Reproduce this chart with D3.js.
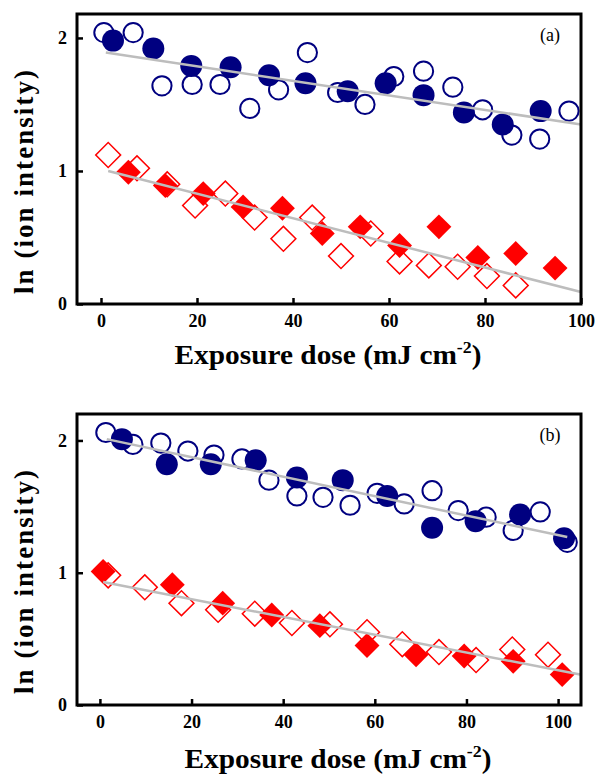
<!DOCTYPE html>
<html>
<head>
<meta charset="utf-8">
<script src="https://cdn.jsdelivr.net/npm/d3@7"></script>
<style>
  body { margin: 0; background: #fff; }
  svg { display: block; }
  .tick text { font-family: 'Liberation Serif', 'Times New Roman', serif; font-weight: bold; font-size: 18px; fill: #000; }
  .tick line { stroke: #000; stroke-width: 2.5; }
</style>
</head>
<body>
<svg id="chart" width="598" height="774"></svg>
<script>
// panel (a) data
const aOpenCircX = [0.6, 6.7, 12.7, 19, 24.8, 31, 37, 43, 49.3, 55, 61, 67.2, 73.3, 79.5, 85.6, 91.4, 97.5];
const aOpenCircY = [2.04, 2.04, 1.64, 1.65, 1.65, 1.47, 1.61, 1.89, 1.59, 1.50, 1.71, 1.75, 1.63, 1.46, 1.27, 1.24, 1.45];
const aFillCircX = [2.5, 10.9, 18.8, 27, 35, 42.6, 51.4, 59.3, 67.2, 75.6, 83.7, 91.6];
const aFillCircY = [1.98, 1.92, 1.79, 1.78, 1.72, 1.66, 1.60, 1.66, 1.57, 1.44, 1.35, 1.45];
const aOpenDiaX = [1.5, 7.5, 13.8, 19.6, 25.9, 32, 38, 44, 50, 56.2, 62.2, 68.3, 74.3, 80.4, 86.4];
const aOpenDiaY = [1.12, 1.02, 0.90, 0.74, 0.83, 0.65, 0.49, 0.65, 0.36, 0.53, 0.32, 0.29, 0.28, 0.21, 0.14];
const aFillDiaX = [5.7, 13.4, 21.3, 29.6, 37.8, 46.1, 54, 62.2, 70.4, 78.5, 86.4, 94.6];
const aFillDiaY = [0.99, 0.89, 0.83, 0.73, 0.72, 0.53, 0.58, 0.44, 0.58, 0.35, 0.38, 0.27];
const aFitBlue = [[1, 1.89], [100, 1.35]];
const aFitRed = [[1.5, 1.00], [100, 0.09]];

// panel (b) data
const bOpenCircX = [1.3, 7.2, 13.3, 19.2, 24.9, 31, 36.9, 43, 48.7, 54.6, 60.5, 66.4, 72.5, 78.2, 84.3, 90.2, 96.1, 102];
const bOpenCircY = [2.06, 1.97, 1.98, 1.92, 1.89, 1.86, 1.70, 1.58, 1.57, 1.51, 1.60, 1.52, 1.62, 1.47, 1.42, 1.32, 1.46, 1.23];
const bFillCircX = [4.8, 14.6, 24.2, 34, 43, 53, 62.7, 72.5, 82, 91.7, 101.3];
const bFillCircY = [2.01, 1.82, 1.82, 1.85, 1.72, 1.70, 1.58, 1.34, 1.39, 1.44, 1.26];
const bOpenDiaX = [1.8, 9.8, 17.8, 25.8, 33.8, 41.9, 50.2, 58.3, 66, 74, 82.1, 90, 97.8];
const bOpenDiaY = [0.98, 0.89, 0.77, 0.72, 0.69, 0.62, 0.61, 0.55, 0.46, 0.40, 0.34, 0.42, 0.38];
const bFillDiaX = [0.7, 15.8, 26.8, 37.5, 48, 58.3, 69, 79.5, 90.2, 100.9];
const bFillDiaY = [1.01, 0.91, 0.77, 0.68, 0.60, 0.45, 0.38, 0.37, 0.33, 0.23];
const bFitBlue = [[1.5, 2.01], [102, 1.27]];
const bFitRed = [[0.7, 0.93], [104.8, 0.23]];

const xTicks = [0, 20, 40, 60, 80, 100];
const yTicks = [0, 1, 2];

const navy = '#000080';
const red = '#ff0000';
const serif = "'Liberation Serif', 'Times New Roman', serif";
const svg = d3.select('#chart');
const zip = (xs, ys) => xs.map((x, i) => [x, ys[i]]);

function panel(cfg) {
  const x = d3.scaleLinear().domain(cfg.xDomain).range([cfg.left, cfg.right]);
  const y = d3.scaleLinear().domain(cfg.yDomain).range([cfg.bottom, cfg.top]);
  const g = svg.append('g');

  // markers: open first, filled on top
  g.selectAll('.oc').data(zip(cfg.openCircX, cfg.openCircY)).enter()
    .append('circle')
    .attr('cx', d => x(d[0])).attr('cy', d => y(d[1])).attr('r', 9.6)
    .attr('fill', 'none').attr('stroke', navy).attr('stroke-width', 2);

  const dia = d3.symbol(d3.symbolSquare, 310);
  g.selectAll('.od').data(zip(cfg.openDiaX, cfg.openDiaY)).enter()
    .append('path')
    .attr('d', dia)
    .attr('transform', d => 'translate(' + x(d[0]) + ',' + y(d[1]) + ') rotate(45)')
    .attr('fill', 'none').attr('stroke', red).attr('stroke-width', 1.5);

  g.selectAll('.fc').data(zip(cfg.fillCircX, cfg.fillCircY)).enter()
    .append('circle')
    .attr('cx', d => x(d[0])).attr('cy', d => y(d[1])).attr('r', 11)
    .attr('fill', navy);

  g.selectAll('.fd').data(zip(cfg.fillDiaX, cfg.fillDiaY)).enter()
    .append('path')
    .attr('d', dia)
    .attr('transform', d => 'translate(' + x(d[0]) + ',' + y(d[1]) + ') rotate(45)')
    .attr('fill', red);

  // fitted lines
  const line = d3.line().x(d => x(d[0])).y(d => y(d[1]));
  [cfg.fitBlue, cfg.fitRed].forEach(f => {
    g.append('path').attr('d', line(f))
      .attr('fill', 'none').attr('stroke', '#bdbdbd').attr('stroke-width', 2.5);
  });

  // frame
  g.append('rect')
    .attr('x', cfg.left).attr('y', cfg.top)
    .attr('width', cfg.right - cfg.left).attr('height', cfg.bottom - cfg.top)
    .attr('fill', 'none').attr('stroke', '#000').attr('stroke-width', 3);

  g.append('g')
    .attr('transform', 'translate(0,' + cfg.bottom + ')')
    .call(d3.axisBottom(x).tickValues(xTicks).tickFormat(d3.format('d'))
      .tickSizeInner(-6).tickSizeOuter(0).tickPadding(10))
    .call(a => a.select('.domain').remove());

  g.append('g')
    .attr('transform', 'translate(' + cfg.left + ',0)')
    .call(d3.axisLeft(y).tickValues(yTicks).tickFormat(d3.format('d'))
      .tickSizeInner(-6).tickSizeOuter(0).tickPadding(10))
    .call(a => a.select('.domain').remove());

  // y title
  g.append('text')
    .attr('transform', 'translate(33,' + cfg.yTitleY + ') rotate(-90)')
    .attr('text-anchor', 'middle')
    .attr('textLength', 224)
    .attr('lengthAdjust', 'spacing')
    .style('font-family', serif)
    .style('font-weight', 'bold')
    .style('font-size', '27px')
    .text('ln (ion intensity)');

  // x title
  const xt = g.append('text')
    .attr('x', cfg.xTitleX).attr('y', cfg.xTitleY)
    .attr('text-anchor', 'middle')
    .attr('textLength', 307)
    .attr('lengthAdjust', 'spacingAndGlyphs')
    .style('font-family', serif)
    .style('font-weight', 'bold')
    .style('font-size', '28px');
  xt.append('tspan').text('Exposure dose (mJ cm');
  xt.append('tspan').attr('dy', -11).style('font-size', '17px').text('-2');
  xt.append('tspan').attr('dy', 11).text(')');

  g.append('text')
    .attr('x', 550).attr('y', cfg.top + 27)
    .attr('text-anchor', 'middle')
    .style('font-family', serif)
    .style('font-size', '18px')
    .text(cfg.label);
}

panel({
  left: 77, right: 581, top: 14, bottom: 304,
  xDomain: [-5, 100], yDomain: [0, 2.18],
  openCircX: aOpenCircX, openCircY: aOpenCircY,
  fillCircX: aFillCircX, fillCircY: aFillCircY,
  openDiaX: aOpenDiaX, openDiaY: aOpenDiaY,
  fillDiaX: aFillDiaX, fillDiaY: aFillDiaY,
  fitBlue: aFitBlue, fitRed: aFitRed,
  yTitleY: 182, xTitleX: 328, xTitleY: 364, label: '(a)'
});

panel({
  left: 77, right: 581, top: 414, bottom: 705,
  xDomain: [-5, 105], yDomain: [0, 2.2],
  openCircX: bOpenCircX, openCircY: bOpenCircY,
  fillCircX: bFillCircX, fillCircY: bFillCircY,
  openDiaX: bOpenDiaX, openDiaY: bOpenDiaY,
  fillDiaX: bFillDiaX, fillDiaY: bFillDiaY,
  fitBlue: bFitBlue, fitRed: bFitRed,
  yTitleY: 582, xTitleX: 338, xTitleY: 768, label: '(b)'
});
</script>
</body>
</html>
